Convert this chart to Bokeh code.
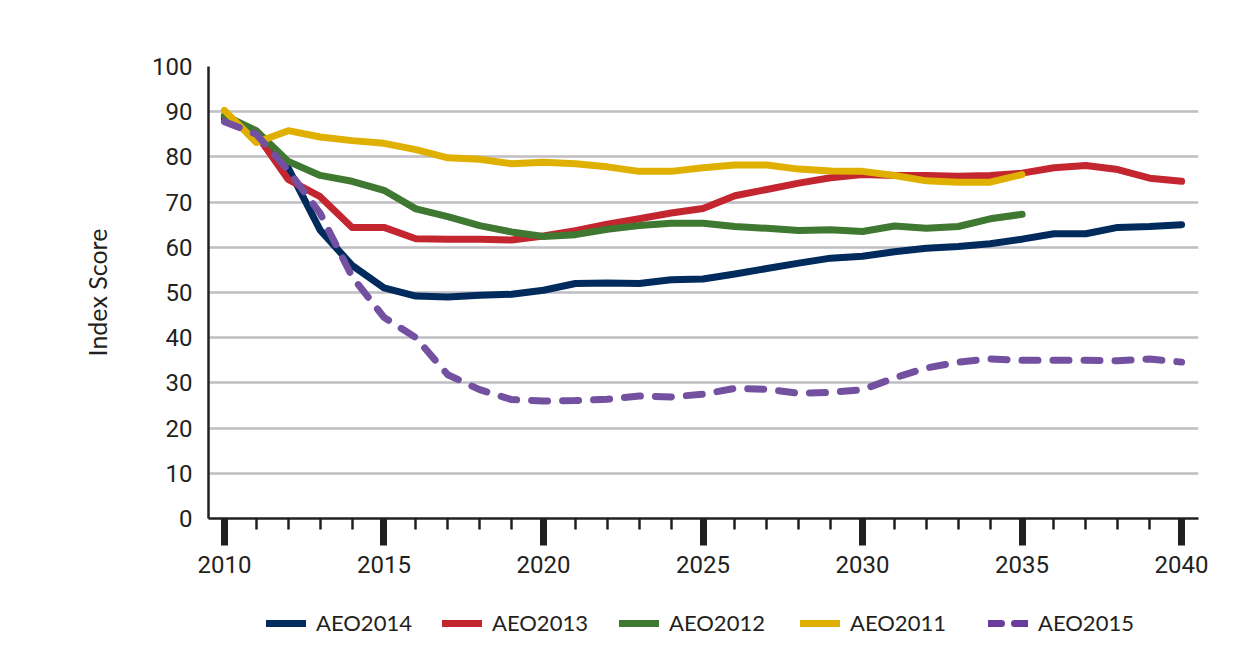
from bokeh.plotting import figure
from bokeh.layouts import column
from bokeh.models import FixedTicker, Legend, LegendItem, Range1d
from bokeh.embed import file_html
from bokeh.resources import INLINE

years_2040 = list(range(2010, 2041))
years_2035 = list(range(2010, 2036))

aeo2014 = [88.5, 85.5, 77.5, 63.8, 56.0, 51.0, 49.2, 49.0, 49.4, 49.6, 50.5,
           52.0, 52.1, 52.0, 52.8, 53.0, 54.1, 55.3, 56.5, 57.6, 58.0,
           59.0, 59.8, 60.2, 60.8, 61.8, 63.0, 63.0, 64.4, 64.6, 65.0]
aeo2013 = [89.0, 85.0, 75.0, 71.2, 64.4, 64.4, 61.9, 61.8, 61.8, 61.6, 62.5,
           63.7, 65.1, 66.3, 67.6, 68.6, 71.4, 72.8, 74.2, 75.4, 76.1,
           75.9, 75.9, 75.7, 75.9, 76.4, 77.6, 78.1, 77.2, 75.3, 74.6]
aeo2012 = [89.2, 85.8, 79.0, 75.9, 74.6, 72.6, 68.5, 66.8, 64.8, 63.4, 62.4,
           62.8, 64.0, 64.8, 65.3, 65.3, 64.6, 64.2, 63.7, 63.9, 63.5,
           64.7, 64.2, 64.6, 66.3, 67.3]
aeo2011 = [90.3, 83.2, 85.8, 84.4, 83.6, 83.0, 81.6, 79.8, 79.5, 78.5, 78.8,
           78.5, 77.8, 76.8, 76.8, 77.6, 78.2, 78.2, 77.3, 76.9, 76.8,
           75.9, 74.7, 74.4, 74.4, 76.1]
aeo2015 = [87.8, 85.0, 77.0, 67.5, 53.5, 44.5, 40.0, 31.8, 28.5, 26.3, 26.0,
           26.1, 26.4, 27.1, 26.9, 27.5, 28.8, 28.6, 27.7, 27.9, 28.5,
           31.1, 33.3, 34.6, 35.3, 35.0, 35.0, 35.0, 34.9, 35.3, 34.6]

series_names = ["AEO2014", "AEO2013", "AEO2012", "AEO2011", "AEO2015"]
series_years = [years_2040, years_2040, years_2035, years_2035, years_2040]
series_values = [aeo2014, aeo2013, aeo2012, aeo2011, aeo2015]
series_colors = ["#002b5c", "#c4262f", "#3f7831", "#e0b000", "#7451a0"]
legend_colors = ["#002b5c", "#c4262f", "#3f7831", "#e0b000", "#6a3d9a"]
series_dash = ["solid", "solid", "solid", "solid", "16 15"]
legend_dash = ["solid", "solid", "solid", "solid", "13 13"]

x_major = [2010, 2015, 2020, 2025, 2030, 2035, 2040]
x_minor = years_2040
y_ticks = [0, 10, 20, 30, 40, 50, 60, 70, 80, 90, 100]
y_grid = [10, 20, 30, 40, 50, 60, 70, 80, 90, 100]

INK = "#231f20"
TICK_FONT = "Roboto"
LABEL_FONT = "Lato"

p = figure(width=1260, height=595, output_backend="svg", toolbar_location=None,
           x_range=Range1d(2009.5, 2040.53), y_range=Range1d(0, 100),
           min_border_left=208, min_border_right=62, min_border_top=66,
           min_border_bottom=77)
p.outline_line_color = None
p.background_fill_color = "white"
p.border_fill_color = "white"

p.xgrid.grid_line_color = None
p.ygrid.ticker = FixedTicker(ticks=y_grid)
p.ygrid.grid_line_color = "#bfbfc4"
p.ygrid.grid_line_width = 2.5

xa = p.xaxis[0]
xa.ticker = FixedTicker(ticks=x_major, minor_ticks=x_minor)
xa.axis_line_color = INK
xa.axis_line_width = 2.5
xa.major_tick_line_color = INK
xa.major_tick_line_width = 7
xa.major_tick_out = 27
xa.major_tick_in = 0
xa.minor_tick_line_color = INK
xa.minor_tick_line_width = 2.5
xa.minor_tick_out = 11
xa.minor_tick_in = 0
xa.major_label_text_font = TICK_FONT
xa.major_label_text_font_size = "24px"
xa.major_label_text_color = INK
xa.major_label_standoff = 10

ya = p.yaxis[0]
ya.ticker = FixedTicker(ticks=y_ticks)
ya.axis_line_color = INK
ya.axis_line_width = 2.5
ya.major_tick_line_color = None
ya.major_tick_out = 0
ya.major_tick_in = 0
ya.minor_tick_line_color = None
ya.major_label_text_font = TICK_FONT
ya.major_label_text_font_size = "24px"
ya.major_label_text_color = INK
ya.major_label_standoff = 16
ya.axis_label = "Index Score"
ya.axis_label_text_font = LABEL_FONT
ya.axis_label_text_font_size = "25px"
ya.axis_label_text_font_style = "normal"
ya.axis_label_text_color = INK
ya.axis_label_standoff = 37

for name, xs, ys, col, dash in zip(series_names, series_years, series_values,
                                   series_colors, series_dash):
    p.line(xs, ys, line_color=col, line_width=7, line_dash=dash,
           line_cap="round", line_join="round")

# legend strip below the chart: same series, ranged out of view so only the keys show
pl = figure(width=1260, height=64, output_backend="svg", toolbar_location=None,
            x_range=Range1d(2009.5, 2040.53), y_range=Range1d(-2, -1),
            x_axis_location=None, y_axis_location=None, min_border=0)
pl.outline_line_color = None
pl.grid.visible = False
pl.border_fill_color = "white"
pl.background_fill_color = "white"

legend_x = [58, 234, 411, 592, 780]
for name, xs, ys, col, dash, lx in zip(series_names, series_years, series_values,
                                       legend_colors, legend_dash, legend_x):
    key = pl.line(xs, ys, line_color=col, line_width=7, line_dash=dash,
                  line_cap="round")
    lg = Legend(items=[LegendItem(label=name, renderers=[key])],
                location=(lx, 23), orientation="horizontal",
                padding=0, margin=0, spacing=0,
                glyph_width=40, glyph_height=26, label_height=26,
                label_standoff=10, border_line_color=None,
                background_fill_alpha=0,
                label_text_font=LABEL_FONT, label_text_font_size="22px",
                label_text_color=INK)
    pl.add_layout(lg, "center")

layout = column(p, pl, spacing=0)
open("out.html", "w").write(file_html(layout, INLINE))
